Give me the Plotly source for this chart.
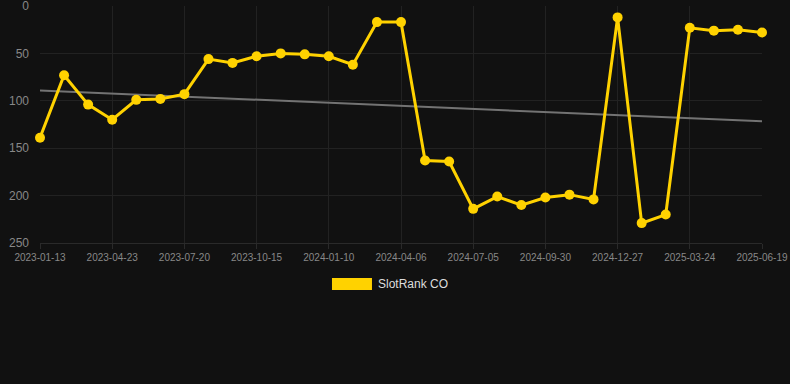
import numpy as np
import plotly.graph_objects as go

dates = [
    "2023-01-13", "2023-02-15", "2023-03-20", "2023-04-23", "2023-05-22", "2023-06-20",
    "2023-07-20", "2023-08-18", "2023-09-16", "2023-10-15", "2023-11-13", "2023-12-12",
    "2024-01-10", "2024-02-08", "2024-03-08", "2024-04-06", "2024-05-06", "2024-06-05",
    "2024-07-05", "2024-08-03", "2024-09-01", "2024-09-30", "2024-10-29", "2024-11-28",
    "2024-12-27", "2025-01-25", "2025-02-23", "2025-03-24", "2025-04-22", "2025-05-21",
    "2025-06-19",
]
ranks = [139, 73, 104, 120, 99, 98, 93, 56, 60, 53, 50, 51, 53, 62, 17, 17,
         163, 164, 214, 201, 210, 202, 199, 204, 12, 229, 220, 23, 26, 25, 28]
tick_labels = dates[::3]
y_ticks = [0, 50, 100, 150, 200, 250]
series_name = "SlotRank CO"

idx = np.arange(len(ranks))
slope, intercept = np.polyfit(idx, ranks, 1)
trend = slope * idx + intercept

GOLD = "#FFD200"
BG = "#111111"

fig = go.Figure()
fig.add_trace(go.Scatter(
    x=dates, y=trend, mode="lines",
    line=dict(color="#737373", width=2), showlegend=False, hoverinfo="skip",
))
fig.add_trace(go.Scatter(
    x=dates, y=ranks, mode="lines+markers", name=series_name,
    line=dict(color=GOLD, width=3),
    marker=dict(color=GOLD, size=10),
    showlegend=False, cliponaxis=False,
))

# legend swatch + label
fig.add_shape(type="rect", xref="paper", yref="paper",
              x0=0.4044, x1=0.4598, y0=-0.1983, y1=-0.1477,
              fillcolor=GOLD, line=dict(width=0))
fig.add_annotation(xref="paper", yref="paper", x=0.465, y=-0.173,
                   text=series_name, showarrow=False, xanchor="left", yanchor="middle",
                   font=dict(size=12, color="#dddddd"))

fig.update_layout(
    width=790, height=384,
    margin=dict(l=40, r=28, t=6, b=141),
    paper_bgcolor=BG, plot_bgcolor=BG,
    font=dict(family="Liberation Sans, Arial, sans-serif", color="#888888"),
    xaxis=dict(
        type="category", categoryorder="array", categoryarray=dates,
        range=[0, len(dates) - 1], automargin=False,
        tickmode="array", tickvals=tick_labels, ticktext=tick_labels,
        tickfont=dict(size=10, color="#888888"),
        showgrid=True, gridcolor="#222222", gridwidth=1,
        zeroline=False, showline=True, linecolor="#2a2a2a",
        ticks="outside", ticklen=5, tickcolor="#2a2a2a",
        ticklabeloverflow="allow",
    ),
    yaxis=dict(
        range=[250, 0], tickvals=y_ticks, automargin=False,
        tickfont=dict(size=12, color="#888888"),
        showgrid=True, gridcolor="#222222", gridwidth=1,
        zeroline=False, showline=False, ticklabelstandoff=10,
        ticklabeloverflow="allow",
    ),
)

fig.write_html(
    "out.html",
    config={"displayModeBar": False},
    post_script="document.body.style.margin='0';document.body.style.background='#111111';",
)
